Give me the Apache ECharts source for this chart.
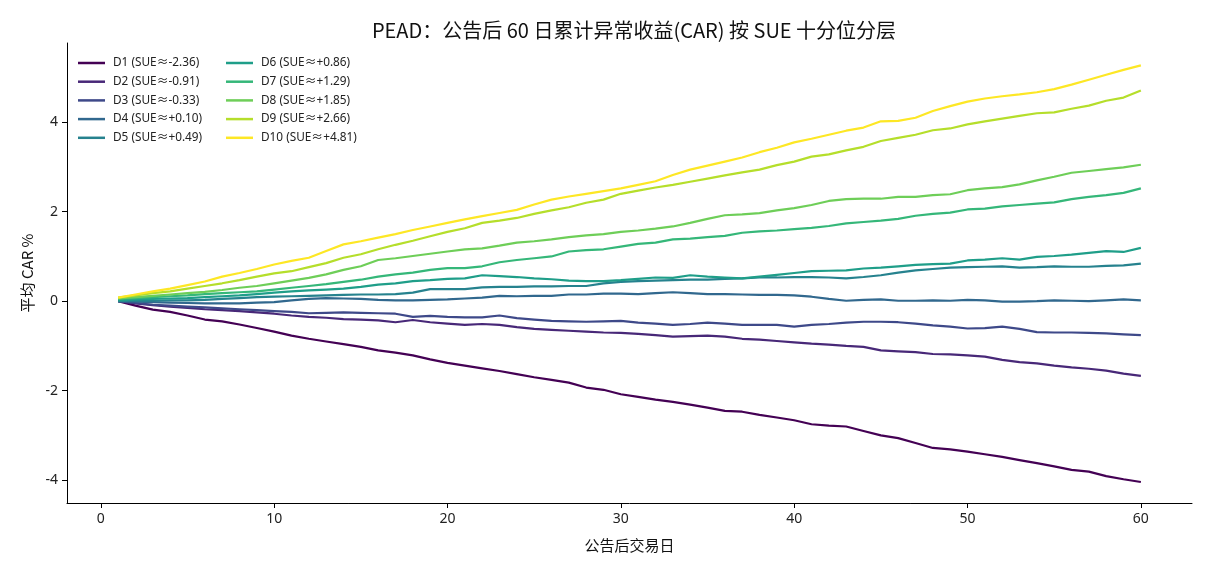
<!DOCTYPE html>
<html>
<head>
<meta charset="utf-8">
<script src="https://cdn.jsdelivr.net/npm/echarts@6/dist/echarts.min.js"></script>
<style>
  html, body { margin: 0; padding: 0; background: #fff; }
  #chart { width: 1210px; height: 572px; }
</style>
</head>
<body>
<div id="chart"></div>
<script>
// trading days after the announcement
const days = [1,2,3,4,5,6,7,8,9,10,11,12,13,14,15,16,17,18,19,20,21,22,23,24,25,26,27,28,29,30,
  31,32,33,34,35,36,37,38,39,40,41,42,43,44,45,46,47,48,49,50,51,52,53,54,55,56,57,58,59,60];

// mean CAR % per SUE decile
const d1 = [0.00,-0.10,-0.19,-0.24,-0.32,-0.41,-0.45,-0.52,-0.60,-0.68,-0.77,-0.84,-0.90,-0.96,-1.02,-1.10,-1.15,-1.21,-1.30,-1.38,
  -1.44,-1.50,-1.56,-1.63,-1.70,-1.76,-1.82,-1.93,-1.98,-2.08,-2.14,-2.20,-2.25,-2.31,-2.38,-2.45,-2.47,-2.54,-2.60,-2.66,
  -2.75,-2.78,-2.80,-2.90,-3.00,-3.06,-3.17,-3.28,-3.31,-3.36,-3.42,-3.48,-3.55,-3.62,-3.69,-3.77,-3.81,-3.91,-3.98,-4.04];
const d2 = [0.00,-0.05,-0.09,-0.12,-0.15,-0.18,-0.20,-0.22,-0.25,-0.28,-0.32,-0.35,-0.37,-0.40,-0.41,-0.43,-0.47,-0.42,-0.47,-0.50,
  -0.53,-0.51,-0.53,-0.58,-0.62,-0.64,-0.66,-0.68,-0.70,-0.71,-0.73,-0.76,-0.79,-0.78,-0.77,-0.79,-0.84,-0.86,-0.89,-0.92,
  -0.95,-0.97,-1.00,-1.02,-1.10,-1.12,-1.14,-1.18,-1.19,-1.21,-1.24,-1.31,-1.36,-1.39,-1.44,-1.48,-1.51,-1.55,-1.62,-1.67];
const d3 = [0.00,-0.04,-0.08,-0.10,-0.12,-0.14,-0.16,-0.18,-0.20,-0.22,-0.24,-0.27,-0.26,-0.25,-0.26,-0.27,-0.28,-0.35,-0.33,-0.35,
  -0.36,-0.36,-0.32,-0.38,-0.41,-0.44,-0.45,-0.46,-0.45,-0.44,-0.48,-0.50,-0.53,-0.51,-0.48,-0.50,-0.53,-0.53,-0.53,-0.57,
  -0.53,-0.51,-0.48,-0.46,-0.46,-0.47,-0.50,-0.54,-0.57,-0.61,-0.60,-0.57,-0.62,-0.69,-0.70,-0.70,-0.71,-0.72,-0.74,-0.76];
const d4 = [0.00,-0.01,-0.02,-0.03,-0.04,-0.05,-0.05,-0.05,-0.03,-0.02,0.02,0.05,0.07,0.06,0.05,0.03,0.02,0.02,0.03,0.04,
  0.06,0.08,0.12,0.11,0.12,0.12,0.15,0.15,0.17,0.17,0.16,0.18,0.20,0.18,0.16,0.16,0.15,0.14,0.14,0.13,
  0.10,0.05,0.01,0.03,0.04,0.01,0.01,0.02,0.01,0.03,0.02,-0.01,-0.01,0.00,0.02,0.01,0.00,0.02,0.04,0.02];
const d5 = [0.00,0.01,0.01,0.02,0.02,0.03,0.05,0.07,0.09,0.10,0.11,0.12,0.13,0.14,0.15,0.15,0.16,0.19,0.27,0.27,
  0.27,0.31,0.32,0.32,0.33,0.33,0.34,0.34,0.40,0.43,0.45,0.46,0.47,0.48,0.48,0.50,0.51,0.53,0.53,0.54,
  0.54,0.53,0.51,0.54,0.58,0.64,0.69,0.72,0.75,0.76,0.77,0.78,0.75,0.76,0.78,0.77,0.77,0.79,0.80,0.84];
const d6 = [0.02,0.04,0.05,0.06,0.07,0.09,0.11,0.13,0.16,0.19,0.22,0.24,0.26,0.28,0.32,0.37,0.40,0.45,0.47,0.50,
  0.51,0.58,0.56,0.54,0.51,0.49,0.46,0.45,0.45,0.47,0.50,0.53,0.52,0.58,0.55,0.53,0.51,0.55,0.59,0.63,
  0.67,0.68,0.69,0.73,0.75,0.78,0.81,0.83,0.84,0.91,0.93,0.96,0.93,0.99,1.01,1.04,1.08,1.12,1.10,1.19];
const d7 = [0.05,0.07,0.09,0.11,0.13,0.16,0.18,0.20,0.22,0.26,0.30,0.34,0.38,0.43,0.48,0.55,0.60,0.64,0.70,0.74,
  0.74,0.78,0.87,0.92,0.96,1.00,1.11,1.14,1.16,1.22,1.28,1.31,1.38,1.40,1.43,1.46,1.53,1.56,1.58,1.61,
  1.64,1.68,1.74,1.77,1.80,1.84,1.91,1.95,1.98,2.05,2.07,2.12,2.15,2.18,2.21,2.28,2.33,2.37,2.42,2.52];
const d8 = [0.06,0.09,0.12,0.15,0.18,0.21,0.25,0.30,0.34,0.40,0.46,0.52,0.60,0.70,0.78,0.92,0.96,1.01,1.06,1.11,
  1.16,1.18,1.24,1.31,1.34,1.38,1.43,1.47,1.50,1.55,1.58,1.62,1.67,1.75,1.84,1.92,1.94,1.97,2.03,2.08,
  2.15,2.24,2.28,2.29,2.29,2.33,2.33,2.37,2.39,2.48,2.52,2.55,2.61,2.70,2.78,2.87,2.91,2.95,2.99,3.05];
const d9 = [0.08,0.13,0.18,0.22,0.28,0.34,0.40,0.47,0.55,0.62,0.67,0.76,0.85,0.97,1.05,1.16,1.26,1.35,1.45,1.55,
  1.63,1.75,1.80,1.86,1.95,2.03,2.10,2.20,2.27,2.40,2.47,2.54,2.60,2.67,2.74,2.81,2.88,2.94,3.04,3.12,
  3.23,3.28,3.37,3.45,3.58,3.65,3.72,3.82,3.86,3.95,4.02,4.08,4.14,4.20,4.22,4.30,4.37,4.48,4.55,4.71];
const d10 = [0.08,0.15,0.22,0.28,0.36,0.44,0.55,0.63,0.72,0.82,0.90,0.97,1.12,1.27,1.34,1.42,1.50,1.59,1.67,1.75,
  1.83,1.90,1.97,2.04,2.16,2.27,2.34,2.40,2.46,2.52,2.60,2.68,2.82,2.94,3.03,3.12,3.21,3.33,3.43,3.55,
  3.63,3.72,3.81,3.88,4.02,4.03,4.10,4.25,4.36,4.46,4.53,4.58,4.62,4.67,4.74,4.84,4.95,5.06,5.17,5.27];

const seriesNames = ['D1 (SUE≈-2.36)','D2 (SUE≈-0.91)','D3 (SUE≈-0.33)','D4 (SUE≈+0.10)','D5 (SUE≈+0.49)',
  'D6 (SUE≈+0.86)','D7 (SUE≈+1.29)','D8 (SUE≈+1.85)','D9 (SUE≈+2.66)','D10 (SUE≈+4.81)'];
const seriesValues = [d1, d2, d3, d4, d5, d6, d7, d8, d9, d10];
const xTicks = [0, 10, 20, 30, 40, 50, 60];
const yTicks = [-4, -2, 0, 2, 4];

// viridis sampled at 10 steps
const colors = ['#440154','#482878','#3e4989','#31688e','#26828e','#1f9e89','#35b779','#6ece58','#b5de2b','#fde725'];

const CJK = '"Noto Sans CJK SC", sans-serif';
const LATIN = '"Noto Sans", "Noto Sans CJK SC", sans-serif';
const INK = '#222';

// two legend columns (ECharts legends have no column count)
const legendBase = {
  orient: 'vertical',
  top: 51,
  icon: 'rect',
  itemWidth: 27,
  itemHeight: 2.5,
  itemGap: 4.7,
  textStyle: { fontFamily: LATIN, fontSize: 11.8, color: INK, lineHeight: 14, padding: [0, 0, 0, 3] },
};

const chart = echarts.init(document.getElementById('chart'), null, { renderer: 'canvas' });
chart.setOption({
  animation: false,
  backgroundColor: '#fff',
  color: colors,
  title: {
    text: 'PEAD：公告后 60 日累计异常收益(CAR) 按 SUE 十分位分层',
    left: 629, top: 15, textAlign: 'center',
    textStyle: { fontFamily: CJK, fontSize: 20, fontWeight: 'normal', color: '#111' },
  },
  legend: [
    Object.assign({}, legendBase, { left: 73, data: seriesNames.slice(0, 5) }),
    Object.assign({}, legendBase, { left: 221, data: seriesNames.slice(5) }),
  ],
  grid: { left: 67, right: 18, top: 43, bottom: 69 },
  xAxis: {
    type: 'value',
    min: -1.95, max: 62.95,
    name: '公告后交易日', nameLocation: 'middle', nameGap: 35,
    nameTextStyle: { fontFamily: CJK, fontSize: 15, color: '#111' },
    axisLine: { onZero: false, lineStyle: { color: '#000', width: 1 } },
    axisTick: { show: true, length: 5, lineStyle: { color: '#000' }, customValues: xTicks },
    axisLabel: { fontFamily: LATIN, fontSize: 14, color: INK, margin: 9, customValues: xTicks },
    splitLine: { show: false },
  },
  yAxis: {
    type: 'value',
    min: -4.51, max: 5.77,
    name: '平均 CAR %', nameLocation: 'middle', nameGap: 30,
    nameTextStyle: { fontFamily: CJK, fontSize: 15, color: '#111' },
    axisLine: { show: true, onZero: false, lineStyle: { color: '#000', width: 1 } },
    axisTick: { show: true, length: 5, lineStyle: { color: '#000' }, customValues: yTicks },
    axisLabel: { fontFamily: LATIN, fontSize: 14, color: INK, margin: 9, customValues: yTicks },
    splitLine: { show: false },
  },
  series: seriesNames.map((name, k) => ({
    name,
    type: 'line',
    showSymbol: false,
    lineStyle: { width: 2.2, color: colors[k] },
    itemStyle: { color: colors[k] },
    data: days.map((d, i) => [d, seriesValues[k][i]]),
  })),
});
</script>
</body>
</html>
